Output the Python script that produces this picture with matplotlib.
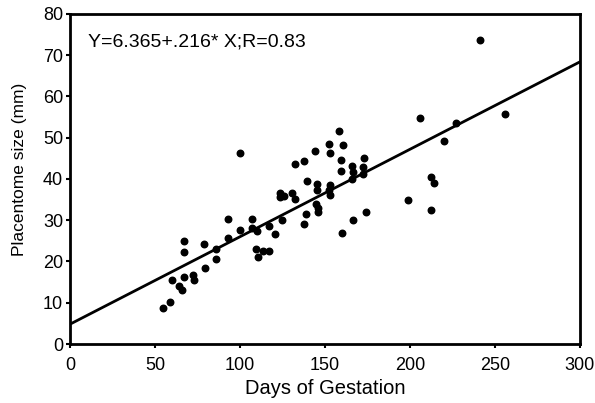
import matplotlib.pyplot as plt

plt.rcParams['font.family'] = ['Liberation Sans', 'DejaVu Sans']

# days of gestation vs placentome size (mm)
days = [54.7, 59.0, 59.8, 64.3, 65.7, 66.8, 66.8, 66.8, 72.6, 72.9,
        79.1, 79.7, 86.0, 86.0, 92.9, 92.9, 100.0, 100.0, 107.0, 107.0,
        109.8, 109.4, 110.6, 113.6, 116.8, 117.0, 120.9, 123.6, 123.8, 125.8,
        124.9, 130.8, 132.1, 132.3, 137.5, 137.7, 138.7, 139.6, 144.4, 145.5,
        145.2, 145.0, 145.8, 146.1, 152.3, 152.9, 152.8, 152.1, 153.1, 158.4,
        160.4, 159.2, 159.4, 159.8, 166.0, 166.4, 166.2, 166.3, 173.1, 172.4,
        172.6, 174.0, 199.0, 206.0, 212.6, 214.2, 212.4, 220.3, 227.2, 241.4,
        256.2]
size = [8.7, 10.3, 15.5, 14.0, 13.2, 16.2, 24.9, 22.3, 16.7, 15.4,
        24.2, 18.5, 23.0, 20.7, 30.3, 25.7, 27.6, 46.4, 30.2, 28.0,
        27.5, 23.1, 21.0, 22.6, 22.5, 28.7, 26.6, 36.6, 35.7, 35.8,
        30.0, 36.5, 35.2, 43.7, 44.4, 29.0, 31.4, 39.5, 46.7, 38.7,
        37.4, 33.9, 32.9, 32.0, 48.6, 46.4, 38.5, 37.4, 36.1, 51.6,
        48.3, 44.5, 42.0, 26.8, 43.1, 41.6, 40.1, 30.1, 45.2, 43.0,
        41.2, 31.9, 34.9, 54.7, 40.5, 39.1, 32.4, 49.2, 53.5, 73.8,
        55.8]

# regression line as drawn in the picture
fit_x = [0, 300]
fit_intercept = 4.8
fit_slope = 0.212
fit_text = 'Y=6.365+.216* X;R=0.83'

fig = plt.figure(figsize=(5.95, 4.03), dpi=100)
ax = fig.add_axes([0.1176, 0.1464, 0.8571, 0.8189])

ax.scatter(days, size, s=22, color='black', zorder=3)
ax.plot(fit_x, [fit_intercept + fit_slope * x for x in fit_x], color='black', lw=2)

ax.set_xlim(0, 300)
ax.set_ylim(0, 80)
ax.set_xticks([0, 50, 100, 150, 200, 250, 300])
ax.set_yticks([0, 10, 20, 30, 40, 50, 60, 70, 80])
ax.tick_params(direction='out', length=3, width=1.5, labelsize=13, pad=2)
ax.tick_params(axis='x', pad=6)
for s in ax.spines.values():
    s.set_linewidth(2)

ax.text(0.035, 0.915, fit_text, transform=ax.transAxes, fontsize=14, va='center')
ax.set_xlabel('Days of Gestation', fontsize=14.5, labelpad=4)
ax.set_ylabel('Placentome size (mm)', fontsize=12.5)
ax.yaxis.set_label_coords(-0.085, 0.53)

fig.savefig('out.png', dpi=100)
